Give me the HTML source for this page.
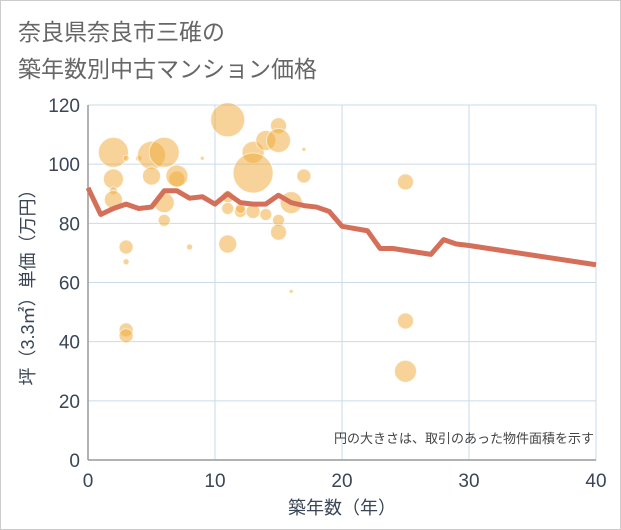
<!DOCTYPE html>
<html><head><meta charset="utf-8"><style>
body{margin:0;background:#fff;}
#wrap{position:relative;width:619px;height:528px;border:1px solid #ccc;background:#fff;font-family:"Liberation Sans","Noto Sans CJK JP",sans-serif;}
.title{position:absolute;left:17px;top:13px;font-size:23px;line-height:37px;color:#666;}
</style></head><body>
<div id="wrap">
<div class="title">奈良県奈良市三碓の<br>築年数別中古マンション価格</div>
<svg id="svg" width="621" height="530" style="position:absolute;left:-1px;top:-1px"></svg>
</div>
<script>
const xTicks=[0,10,20,30,40];
const yTicks=[0,20,40,60,80,100,120];
const bubbleX=[2,2,2,2,3,3,3,3,3,4,5,5,6,6,6,7,7,8,9,11,11,11,11,12,12,13,13,13,14,14,15,15,15,15,16,16,17,17,25,25,25];
const bubbleY=[104,95,91,88,72,67,44,42,102,102,103,96,104,87,81,95,96,72,102,115,89,85,73,84,85,104,97,84,108,83,113,108,81,77,87,57,105,96,94,47,30];
const bubbleR=[15,10,4,9,7,3,7,7,3,3,14,9,15,10,6,8,11,3,2,17,6,6,9,6,5,11,20,7,10,6,8,12,6,8,11,2,2,7,8,8,11];
const lineX=[0,1,2,3,4,5,6,7,8,9,10,11,12,13,14,15,16,17,18,19,20,22,23,24,27,28,29,30,40];
const lineY=[92,83,85,86.5,85,85.5,91,91,88.5,89,86.5,90,87,86.5,86.5,89.5,87,86,85.5,84,79,77.5,71.5,71.5,69.5,74.5,73,72.5,66];
const NS='http://www.w3.org/2000/svg';
const svg=document.getElementById('svg');
const X0=88,X1=596,Y0=460,Y1=105;
const sx=v=>X0+(v-0)/40*(X1-X0);
const sy=v=>Y0-(v/120)*(Y0-Y1);
function mk(t,a,p){const e=document.createElementNS(NS,t);for(const k in a)e.setAttribute(k,a[k]);(p||svg).appendChild(e);return e;}
const g=mk('g',{});


yTicks.forEach(v=>{if(v>0)mk('line',{x1:X0,x2:X1,y1:sy(v),y2:sy(v),stroke:'#c9dbe8','stroke-width':1},g);
const t=mk('text',{x:X0-8,y:sy(v)+7,'text-anchor':'end','font-size':19,fill:'#3a4656'});t.textContent=v;

});
xTicks.forEach(v=>{if(v>0)mk('line',{x1:sx(v),x2:sx(v),y1:Y1,y2:Y0,stroke:'#c9dbe8','stroke-width':1},g);
const t=mk('text',{x:sx(v),y:Y0+27,'text-anchor':'middle','font-size':19,fill:'#3a4656'});t.textContent=v;

});
mk('line',{x1:X0,x2:X0,y1:Y1,y2:Y0,stroke:'#999','stroke-width':1.5});
mk('line',{x1:X0,x2:X1,y1:Y0,y2:Y0,stroke:'#999','stroke-width':1.5});
const bg=mk('g',{});


bubbleX.forEach((x,i)=>{const c=mk('circle',{cx:sx(x),cy:sy(bubbleY[i]),r:bubbleR[i],fill:'rgba(240,170,60,0.52)',stroke:'rgba(255,255,255,0.6)','stroke-width':1},bg);

});
const pl=mk('polyline',{points:lineX.map((x,i)=>sx(x)+','+sy(lineY[i])).join(' '),fill:'none',stroke:'#d4705a','stroke-width':5,'stroke-linejoin':'round'});


const note=mk('text',{x:594,y:443,'text-anchor':'end','font-size':13,fill:'#444'});note.textContent='円の大きさは、取引のあった物件面積を示す';


const xt=mk('text',{x:342,y:514,'text-anchor':'middle','font-size':18,fill:'#3a4656'});xt.textContent='築年数（年）';


const yt=mk('text',{x:0,y:0,'text-anchor':'middle','font-size':18,fill:'#3a4656',transform:'translate(34,283) rotate(-90)'});yt.textContent='坪（3.3㎡）単価（万円）';


</script>
</body></html>
